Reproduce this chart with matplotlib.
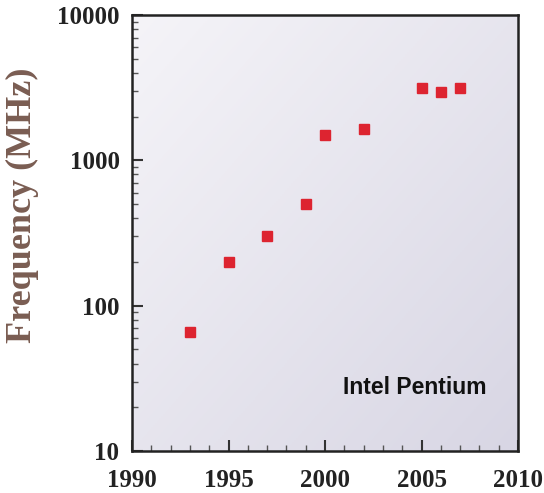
import numpy as np
import matplotlib
matplotlib.use("Agg")
import matplotlib.pyplot as plt
from matplotlib.colors import LinearSegmentedColormap
from matplotlib.ticker import LogLocator, FixedLocator, NullFormatter

years = [1993, 1995, 1997, 1999, 2000, 2002, 2005, 2006, 2007]
freq_mhz = [66, 200, 300, 500, 1500, 1650, 3150, 2930, 3160]
x_ticks = [1990, 1995, 2000, 2005, 2010]
y_ticks = [10, 100, 1000, 10000]
label_text = "Intel Pentium"

fig = plt.figure(figsize=(5.44, 4.93), dpi=100)
ax = fig.add_axes([132/544, 1 - 451/493, (518-132)/544, (451-15)/493])

# gradient background: light top-left, darker bottom-right
gx, gy = np.meshgrid(np.linspace(0, 1, 200), np.linspace(0, 1, 200))
g = (gx + gy) / 2.0
cmap = LinearSegmentedColormap.from_list("bg", ["#f5f4f8", "#d8d6e4"])
ax.imshow(g, extent=[0, 1, 0, 1], transform=ax.transAxes, cmap=cmap,
          aspect="auto", origin="upper", zorder=0)

ax.set_yscale("log")
ax.set_xlim(1990, 2010)
ax.set_ylim(10, 10000)

ax.plot(years, freq_mhz, linestyle="none", marker="s", markersize=7.8,
        color="#dd2430", markeredgecolor="#dd2430", zorder=3)

ax.xaxis.set_major_locator(FixedLocator(x_ticks))
ax.xaxis.set_minor_locator(FixedLocator(list(range(1990, 2011))))
ax.yaxis.set_major_locator(FixedLocator(y_ticks))
ax.yaxis.set_minor_locator(LogLocator(base=10, subs=np.arange(2, 10)))
ax.yaxis.set_minor_formatter(NullFormatter())
ax.set_xticklabels([str(v) for v in x_ticks])
ax.set_yticklabels([str(v) for v in y_ticks])

for lab in ax.get_xticklabels() + ax.get_yticklabels():
    lab.set_fontfamily("Liberation Serif")
    lab.set_fontweight("bold")
    lab.set_fontsize(18)
    lab.set_color("#222222")

ax.tick_params(which="major", direction="in", length=8, width=1.5,
               color="#333333", top=False, right=False)
ax.tick_params(axis="x", which="major", pad=13)
ax.tick_params(axis="y", which="major", pad=9)
ax.tick_params(which="minor", direction="in", length=4, width=1.0,
               color="#555555", top=False, right=False)

for sp in ax.spines.values():
    sp.set_linewidth(1.8)
    sp.set_color("#222222")

fig.text(22/544, 1 - 205/493, "Frequency (MHz)", rotation=90,
         ha="center", va="center", fontfamily="Liberation Serif",
         fontweight="bold", fontsize=26, color="#7a5d52")

ax.text(0.733, 0.145, label_text, transform=ax.transAxes, ha="center",
        va="center", fontfamily="Liberation Sans", fontweight="bold",
        fontsize=16.5, color="#111111")

fig.savefig("out.png", dpi=100)
